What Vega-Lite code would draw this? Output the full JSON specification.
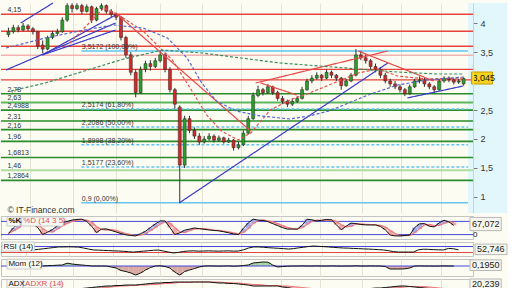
{
"$schema": "https://vega.github.io/schema/vega-lite/v6.json",
"padding": 0,
"background": "#fcfcf2",
"spacing": 3,
"bounds": "flush",
"config": {"view": {"stroke": null}, "font": "Liberation Sans", "text": {"font": "Liberation Sans"}},
"datasets": {
"bars": [
{"i":0,"o":3.80,"h":3.92,"l":3.76,"c":3.85,"k":25,"d":25,"r":null,"m":null,"a":null,"ar":null},
{"i":1,"o":3.85,"h":3.97,"l":3.82,"c":3.92,"k":50,"d":37,"r":null,"m":null,"a":null,"ar":null},
{"i":2,"o":3.92,"h":3.96,"l":3.84,"c":3.88,"k":71,"d":49,"r":null,"m":null,"a":null,"ar":null},
{"i":3,"o":3.88,"h":4.00,"l":3.86,"c":3.95,"k":79,"d":67,"r":null,"m":null,"a":null,"ar":null},
{"i":4,"o":3.95,"h":3.98,"l":3.86,"c":3.90,"k":85,"d":78,"r":null,"m":null,"a":null,"ar":null},
{"i":5,"o":3.90,"h":3.93,"l":3.80,"c":3.85,"k":70,"d":78,"r":null,"m":null,"a":null,"ar":null},
{"i":6,"o":3.85,"h":3.86,"l":3.55,"c":3.60,"k":52,"d":69,"r":47,"m":null,"a":null,"ar":null},
{"i":7,"o":3.62,"h":3.70,"l":3.48,"c":3.55,"k":20,"d":47,"r":51,"m":0,"a":null,"ar":null},
{"i":8,"o":3.55,"h":3.78,"l":3.53,"c":3.75,"k":31,"d":34,"r":55,"m":0.03,"a":null,"ar":null},
{"i":9,"o":3.75,"h":3.86,"l":3.72,"c":3.82,"k":43,"d":31,"r":59,"m":0.05,"a":null,"ar":null},
{"i":10,"o":3.82,"h":3.90,"l":3.78,"c":3.85,"k":60,"d":45,"r":63,"m":0.08,"a":null,"ar":null},
{"i":11,"o":3.85,"h":4.10,"l":3.83,"c":4.05,"k":74,"d":59,"r":67,"m":0.1,"a":null,"ar":null},
{"i":12,"o":4.05,"h":4.34,"l":4.02,"c":4.30,"k":80,"d":71,"r":67,"m":0.28,"a":18,"ar":17},
{"i":13,"o":4.30,"h":4.34,"l":4.18,"c":4.25,"k":86,"d":80,"r":68,"m":0.2,"a":19,"ar":17},
{"i":14,"o":4.25,"h":4.34,"l":4.22,"c":4.30,"k":89,"d":85,"r":67,"m":0.14,"a":20,"ar":18},
{"i":15,"o":4.30,"h":4.33,"l":4.15,"c":4.20,"k":90,"d":88,"r":66,"m":0.1,"a":21,"ar":18},
{"i":16,"o":4.20,"h":4.32,"l":4.18,"c":4.28,"k":80,"d":86,"r":60,"m":0.05,"a":22,"ar":19},
{"i":17,"o":4.28,"h":4.30,"l":4.00,"c":4.05,"k":58,"d":76,"r":53,"m":0,"a":23,"ar":20},
{"i":18,"o":4.05,"h":4.28,"l":4.03,"c":4.25,"k":29,"d":56,"r":47,"m":0,"a":24,"ar":21},
{"i":19,"o":4.25,"h":4.34,"l":4.22,"c":4.30,"k":45,"d":44,"r":46,"m":0,"a":25,"ar":22},
{"i":20,"o":4.30,"h":4.32,"l":4.16,"c":4.20,"k":46,"d":40,"r":44,"m":-0.01,"a":26,"ar":23},
{"i":21,"o":4.20,"h":4.24,"l":4.10,"c":4.15,"k":39,"d":43,"r":43,"m":-0.1,"a":26,"ar":24},
{"i":22,"o":4.15,"h":4.18,"l":4.05,"c":4.10,"k":32,"d":39,"r":41,"m":-0.2,"a":27,"ar":25},
{"i":23,"o":4.10,"h":4.12,"l":3.70,"c":3.75,"k":25,"d":32,"r":40,"m":-0.45,"a":27,"ar":26},
{"i":24,"o":3.75,"h":3.78,"l":3.40,"c":3.45,"k":19,"d":25,"r":38,"m":-0.55,"a":28,"ar":26},
{"i":25,"o":3.45,"h":3.50,"l":3.10,"c":3.15,"k":16,"d":20,"r":35,"m":-0.7,"a":28,"ar":27},
{"i":26,"o":3.15,"h":3.20,"l":2.72,"c":2.80,"k":14,"d":16,"r":33,"m":-0.9,"a":28,"ar":27},
{"i":27,"o":2.80,"h":3.25,"l":2.78,"c":3.20,"k":24,"d":18,"r":36,"m":-0.7,"a":29,"ar":28},
{"i":28,"o":3.20,"h":3.35,"l":3.15,"c":3.30,"k":35,"d":24,"r":39,"m":-0.4,"a":30,"ar":28},
{"i":29,"o":3.30,"h":3.36,"l":3.18,"c":3.25,"k":52,"d":37,"r":42,"m":-0.15,"a":31,"ar":29},
{"i":30,"o":3.25,"h":3.40,"l":3.22,"c":3.35,"k":68,"d":52,"r":45,"m":0,"a":32,"ar":29},
{"i":31,"o":3.35,"h":3.52,"l":3.32,"c":3.45,"k":82,"d":67,"r":46,"m":0.02,"a":32,"ar":30},
{"i":32,"o":3.45,"h":3.48,"l":3.15,"c":3.20,"k":82,"d":77,"r":40,"m":-0.05,"a":33,"ar":31},
{"i":33,"o":3.20,"h":3.24,"l":2.80,"c":2.85,"k":52,"d":72,"r":33,"m":-0.2,"a":33,"ar":31},
{"i":34,"o":2.85,"h":2.88,"l":2.52,"c":2.60,"k":20,"d":51,"r":27,"m":-0.6,"a":34,"ar":32},
{"i":35,"o":2.55,"h":2.58,"l":0.90,"c":1.55,"k":28,"d":33,"r":31,"m":-0.9,"a":34,"ar":33},
{"i":36,"o":1.55,"h":2.40,"l":1.50,"c":2.35,"k":40,"d":29,"r":37,"m":-0.55,"a":34,"ar":33},
{"i":37,"o":2.35,"h":2.40,"l":2.10,"c":2.15,"k":45,"d":38,"r":40,"m":-0.4,"a":34,"ar":33},
{"i":38,"o":2.15,"h":2.20,"l":2.00,"c":2.05,"k":50,"d":45,"r":41,"m":-0.25,"a":34,"ar":34},
{"i":39,"o":2.05,"h":2.10,"l":1.90,"c":1.95,"k":47,"d":47,"r":39,"m":-0.1,"a":34,"ar":34},
{"i":40,"o":1.95,"h":2.05,"l":1.92,"c":2.00,"k":44,"d":47,"r":40,"m":0,"a":34,"ar":34},
{"i":41,"o":2.00,"h":2.10,"l":1.97,"c":2.05,"k":41,"d":44,"r":41,"m":0.01,"a":34,"ar":34},
{"i":42,"o":2.05,"h":2.08,"l":1.94,"c":1.98,"k":39,"d":41,"r":40,"m":0,"a":33,"ar":34},
{"i":43,"o":1.98,"h":2.06,"l":1.95,"c":2.02,"k":37,"d":39,"r":39,"m":-0.01,"a":32,"ar":34},
{"i":44,"o":2.02,"h":2.04,"l":1.92,"c":1.95,"k":33,"d":36,"r":40,"m":0,"a":32,"ar":33},
{"i":45,"o":1.95,"h":2.02,"l":1.93,"c":1.98,"k":28,"d":33,"r":41,"m":0.01,"a":31,"ar":33},
{"i":46,"o":1.98,"h":2.00,"l":1.80,"c":1.85,"k":23,"d":28,"r":39,"m":-0.02,"a":31,"ar":32},
{"i":47,"o":1.85,"h":1.95,"l":1.82,"c":1.90,"k":20,"d":24,"r":40,"m":0,"a":30,"ar":32},
{"i":48,"o":1.90,"h":2.15,"l":1.88,"c":2.10,"k":48,"d":30,"r":48,"m":0.05,"a":29,"ar":31},
{"i":49,"o":2.10,"h":2.40,"l":2.08,"c":2.35,"k":73,"d":47,"r":60,"m":0.1,"a":28,"ar":30},
{"i":50,"o":2.35,"h":2.80,"l":2.33,"c":2.75,"k":90,"d":70,"r":67,"m":0.3,"a":26,"ar":29},
{"i":51,"o":2.75,"h":2.92,"l":2.72,"c":2.85,"k":86,"d":83,"r":67,"m":0.35,"a":26,"ar":29},
{"i":52,"o":2.85,"h":2.88,"l":2.75,"c":2.80,"k":84,"d":87,"r":65,"m":0.4,"a":26,"ar":28},
{"i":53,"o":2.80,"h":2.95,"l":2.78,"c":2.90,"k":79,"d":83,"r":62,"m":0.38,"a":26,"ar":27},
{"i":54,"o":2.90,"h":2.92,"l":2.76,"c":2.80,"k":70,"d":78,"r":60,"m":0.1,"a":26,"ar":27},
{"i":55,"o":2.80,"h":2.83,"l":2.66,"c":2.70,"k":61,"d":70,"r":58,"m":-0.1,"a":26,"ar":27},
{"i":56,"o":2.70,"h":2.74,"l":2.60,"c":2.65,"k":52,"d":61,"r":56,"m":-0.05,"a":24,"ar":26},
{"i":57,"o":2.65,"h":2.68,"l":2.55,"c":2.60,"k":45,"d":53,"r":53,"m":-0.02,"a":23,"ar":26},
{"i":58,"o":2.60,"h":2.70,"l":2.57,"c":2.65,"k":45,"d":47,"r":56,"m":0,"a":21,"ar":25},
{"i":59,"o":2.65,"h":2.74,"l":2.62,"c":2.70,"k":45,"d":45,"r":61,"m":0,"a":20,"ar":24},
{"i":60,"o":2.70,"h":2.90,"l":2.68,"c":2.85,"k":62,"d":51,"r":65,"m":0.01,"a":19,"ar":23},
{"i":61,"o":2.85,"h":3.04,"l":2.83,"c":3.00,"k":90,"d":66,"r":70,"m":0,"a":18,"ar":22},
{"i":62,"o":3.00,"h":3.10,"l":2.96,"c":3.05,"k":87,"d":80,"r":73,"m":0,"a":18,"ar":21},
{"i":63,"o":3.05,"h":3.15,"l":3.02,"c":3.10,"k":82,"d":86,"r":71,"m":0.01,"a":18,"ar":20},
{"i":64,"o":3.10,"h":3.12,"l":3.00,"c":3.05,"k":85,"d":85,"r":69,"m":0,"a":18,"ar":19},
{"i":65,"o":3.05,"h":3.20,"l":3.03,"c":3.15,"k":89,"d":85,"r":67,"m":0,"a":18,"ar":19},
{"i":66,"o":3.15,"h":3.18,"l":3.05,"c":3.10,"k":87,"d":87,"r":64,"m":0.01,"a":18,"ar":18},
{"i":67,"o":3.10,"h":3.12,"l":3.00,"c":3.05,"k":65,"d":80,"r":62,"m":0,"a":18,"ar":18},
{"i":68,"o":3.05,"h":3.07,"l":2.85,"c":2.92,"k":42,"d":65,"r":60,"m":-0.01,"a":18,"ar":18},
{"i":69,"o":2.92,"h":3.04,"l":2.90,"c":3.00,"k":58,"d":55,"r":59,"m":0,"a":18,"ar":18},
{"i":70,"o":3.00,"h":3.14,"l":2.98,"c":3.10,"k":72,"d":57,"r":57,"m":0,"a":19,"ar":18},
{"i":71,"o":3.10,"h":3.55,"l":3.08,"c":3.45,"k":70,"d":67,"r":56,"m":0.02,"a":20,"ar":18},
{"i":72,"o":3.45,"h":3.52,"l":3.36,"c":3.40,"k":66,"d":69,"r":54,"m":0,"a":20,"ar":19},
{"i":73,"o":3.40,"h":3.46,"l":3.30,"c":3.35,"k":64,"d":67,"r":53,"m":0,"a":21,"ar":19},
{"i":74,"o":3.35,"h":3.38,"l":3.20,"c":3.25,"k":64,"d":65,"r":51,"m":0.01,"a":21,"ar":20},
{"i":75,"o":3.25,"h":3.30,"l":3.15,"c":3.20,"k":64,"d":64,"r":49,"m":0,"a":22,"ar":20},
{"i":76,"o":3.20,"h":3.24,"l":3.05,"c":3.10,"k":57,"d":62,"r":47,"m":0,"a":22,"ar":21},
{"i":77,"o":3.10,"h":3.14,"l":2.96,"c":3.00,"k":42,"d":54,"r":42,"m":-0.05,"a":23,"ar":21},
{"i":78,"o":3.00,"h":3.04,"l":2.90,"c":2.95,"k":18,"d":39,"r":36,"m":-0.3,"a":24,"ar":22},
{"i":79,"o":2.95,"h":3.00,"l":2.86,"c":2.90,"k":14,"d":25,"r":33,"m":-0.3,"a":25,"ar":22},
{"i":80,"o":2.90,"h":2.94,"l":2.80,"c":2.85,"k":14,"d":15,"r":33,"m":-0.3,"a":26,"ar":23},
{"i":81,"o":2.85,"h":2.88,"l":2.74,"c":2.78,"k":16,"d":15,"r":33,"m":-0.28,"a":26,"ar":24},
{"i":82,"o":2.78,"h":2.94,"l":2.76,"c":2.90,"k":18,"d":16,"r":33,"m":-0.2,"a":25,"ar":25},
{"i":83,"o":2.90,"h":3.04,"l":2.88,"c":3.00,"k":52,"d":29,"r":48,"m":0,"a":24,"ar":25},
{"i":84,"o":3.00,"h":3.08,"l":2.96,"c":3.02,"k":69,"d":46,"r":52,"m":0.01,"a":23,"ar":25},
{"i":85,"o":3.02,"h":3.05,"l":2.90,"c":2.95,"k":70,"d":64,"r":51,"m":0,"a":22,"ar":25},
{"i":86,"o":2.95,"h":2.98,"l":2.86,"c":2.90,"k":58,"d":66,"r":49,"m":0,"a":21,"ar":24},
{"i":87,"o":2.90,"h":2.93,"l":2.80,"c":2.85,"k":55,"d":61,"r":48,"m":-0.01,"a":20,"ar":23},
{"i":88,"o":2.85,"h":3.04,"l":2.83,"c":3.00,"k":73,"d":62,"r":47,"m":0,"a":19,"ar":22},
{"i":89,"o":3.00,"h":3.08,"l":2.97,"c":3.05,"k":85,"d":71,"r":57,"m":0.01,"a":18,"ar":21},
{"i":90,"o":3.05,"h":3.08,"l":2.98,"c":3.02,"k":78,"d":79,"r":55,"m":0,"a":18,"ar":20},
{"i":91,"o":3.02,"h":3.05,"l":2.94,"c":2.98,"k":62,"d":75,"r":48,"m":0,"a":18,"ar":19},
{"i":92,"o":2.98,"h":3.04,"l":2.95,"c":3.00,"k":null,"d":null,"r":null,"m":null,"a":null,"ar":null},
{"i":93,"o":2.95,"h":3.06,"l":2.92,"c":3.045,"k":null,"d":null,"r":null,"m":null,"a":null,"ar":null}
],
"levels": [
{"v":4.15,"kind":"res","label":"4,15"},
{"v":3.857,"kind":"res","label":""},
{"v":3.598,"kind":"res","label":""},
{"v":3.443,"kind":"respale","label":""},
{"v":3.2,"kind":"res","label":""},
{"v":3.02,"kind":"res","label":""},
{"v":2.78,"kind":"sup","label":"2,78"},
{"v":2.63,"kind":"suplight","label":"2,63"},
{"v":2.4988,"kind":"sup","label":"2,4988"},
{"v":2.31,"kind":"sup","label":"2,31"},
{"v":2.16,"kind":"sup","label":"2,16"},
{"v":1.96,"kind":"sup","label":"1,96"},
{"v":1.6813,"kind":"sup","label":"1,6813"},
{"v":1.46,"kind":"suppale","label":"1,46"},
{"v":1.2864,"kind":"sup","label":"1,2864"}
],
"fibs": [
{"v":3.5172,"kind":"solid","label":"3,5172 (100,00%)"},
{"v":2.5174,"kind":"dash","label":"2,5174 (61,80%)"},
{"v":2.2086,"kind":"dash","label":"2,2086 (50,00%)"},
{"v":1.8998,"kind":"dash","label":"1,8998 (38,20%)"},
{"v":1.5177,"kind":"dash","label":"1,5177 (23,60%)"},
{"v":0.9,"kind":"solid","label":"0,9 (0,00%)"}
],
"lines": [
{"id":"B1","kind":"tb","i":-0.5,"v":3.19},{"id":"B1","kind":"tb","i":21.9,"v":4.0},
{"id":"B2","kind":"tb","i":6.9,"v":3.448},{"id":"B2","kind":"tb","i":21.9,"v":4.138},
{"id":"B3","kind":"tb","i":6.9,"v":3.448},{"id":"B3","kind":"tb","i":21.9,"v":3.879},
{"id":"B4","kind":"tb","i":2.5,"v":4.0},{"id":"B4","kind":"tb","i":9.1,"v":4.345},
{"id":"B5","kind":"tb","i":34.9,"v":0.897},{"id":"B5","kind":"tb","i":77.5,"v":3.31},
{"id":"B6","kind":"tb","i":81.5,"v":2.707},{"id":"B6","kind":"tb","i":92.9,"v":2.914},
{"id":"R1","kind":"tr","i":21.9,"v":4.172},{"id":"R1","kind":"tr","i":49.5,"v":2.138},
{"id":"R2","kind":"tr","i":50.5,"v":2.966},{"id":"R2","kind":"tr","i":77.5,"v":3.517},
{"id":"R3","kind":"tr","i":51.5,"v":2.966},{"id":"R3","kind":"tr","i":58.9,"v":2.759},
{"id":"R4","kind":"tr","i":71.5,"v":3.517},{"id":"R4","kind":"tr","i":86.9,"v":3.0},
{"id":"MR","kind":"mr","i":12.5,"v":3.655},{"id":"MR","kind":"mr","i":15.5,"v":3.914},{"id":"MR","kind":"mr","i":19.5,"v":4.259},{"id":"MR","kind":"mr","i":22.5,"v":4.138},{"id":"MR","kind":"mr","i":27.5,"v":3.862},{"id":"MR","kind":"mr","i":33.5,"v":3.362},{"id":"MR","kind":"mr","i":37.5,"v":2.828},{"id":"MR","kind":"mr","i":40.5,"v":2.414},{"id":"MR","kind":"mr","i":43.5,"v":2.138},{"id":"MR","kind":"mr","i":46.9,"v":1.983},{"id":"MR","kind":"mr","i":49.5,"v":2.103},{"id":"MR","kind":"mr","i":53.5,"v":2.5},{"id":"MR","kind":"mr","i":57.5,"v":2.672},{"id":"MR","kind":"mr","i":61.5,"v":2.793},{"id":"MR","kind":"mr","i":65.5,"v":2.931},{"id":"MR","kind":"mr","i":68.5,"v":3.034},{"id":"MR","kind":"mr","i":71.5,"v":3.138},{"id":"MR","kind":"mr","i":75.5,"v":3.207},{"id":"MR","kind":"mr","i":79.5,"v":3.086},{"id":"MR","kind":"mr","i":85.5,"v":3.034},{"id":"MR","kind":"mr","i":93.1,"v":3.052},
{"id":"MB","kind":"mb","i":-0.5,"v":3.569},{"id":"MB","kind":"mb","i":7.5,"v":3.741},{"id":"MB","kind":"mb","i":15.5,"v":3.879},{"id":"MB","kind":"mb","i":21.5,"v":3.966},{"id":"MB","kind":"mb","i":27.5,"v":3.914},{"id":"MB","kind":"mb","i":32.5,"v":3.741},{"id":"MB","kind":"mb","i":36.5,"v":3.397},{"id":"MB","kind":"mb","i":39.5,"v":2.966},{"id":"MB","kind":"mb","i":42.5,"v":2.655},{"id":"MB","kind":"mb","i":46.5,"v":2.483},{"id":"MB","kind":"mb","i":51.5,"v":2.397},{"id":"MB","kind":"mb","i":57.5,"v":2.345},{"id":"MB","kind":"mb","i":61.5,"v":2.397},{"id":"MB","kind":"mb","i":65.5,"v":2.483},{"id":"MB","kind":"mb","i":69.5,"v":2.621},{"id":"MB","kind":"mb","i":73.5,"v":2.759},{"id":"MB","kind":"mb","i":79.5,"v":2.931},{"id":"MB","kind":"mb","i":85.5,"v":3.017},{"id":"MB","kind":"mb","i":93.1,"v":3.069},
{"id":"MG","kind":"mg","i":0.5,"v":2.828},{"id":"MG","kind":"mg","i":7.5,"v":2.966},{"id":"MG","kind":"mg","i":15.5,"v":3.172},{"id":"MG","kind":"mg","i":23.5,"v":3.379},{"id":"MG","kind":"mg","i":31.5,"v":3.534},{"id":"MG","kind":"mg","i":39.5,"v":3.483},{"id":"MG","kind":"mg","i":47.5,"v":3.397},{"id":"MG","kind":"mg","i":55.5,"v":3.31},{"id":"MG","kind":"mg","i":63.5,"v":3.259},{"id":"MG","kind":"mg","i":71.5,"v":3.207},{"id":"MG","kind":"mg","i":79.5,"v":3.155},{"id":"MG","kind":"mg","i":87.5,"v":3.121},{"id":"MG","kind":"mg","i":93.1,"v":3.121}
]
},
"vconcat": [
{
"width": 472, "height": 210,
"resolve": {"scale": {"color": "independent", "strokeDash": "independent", "strokeWidth": "independent"}},
"layer": [
{"data": {"values": [{}]}, "mark": {"type": "rect", "fill": "#e2f7fb"},
 "encoding": {
  "x": {"datum": 93.9, "type": "quantitative", "scale": {"domain": [-0.5, 93.9], "nice": false, "zero": false}},
  "x2": {"datum": 101.9},
  "y": {"datum": 4.345, "type": "quantitative", "scale": {"domain": [0.724, 4.345], "nice": false, "zero": false}},
  "y2": {"datum": 0.724}}},
{"data": {"name": "levels"}, "mark": {"type": "rule"},
 "encoding": {
  "y": {"field": "v", "type": "quantitative"},
  "color": {"field": "kind", "type": "nominal", "scale": {"domain": ["res", "respale", "sup", "suplight", "suppale"], "range": ["#e8423a", "#f2b2b2", "#2a8c2a", "#5db85d", "#b2dba2"]}, "legend": null},
  "strokeWidth": {"field": "kind", "type": "ordinal", "scale": {"domain": ["res", "respale", "sup", "suplight", "suppale"], "range": [1.4, 2, 2, 1.4, 3]}, "legend": null}}},
{"data": {"name": "fibs"}, "mark": {"type": "rule", "color": "#62c6f0", "strokeWidth": 1.5},
 "encoding": {
  "x": {"datum": 14.9}, "x2": {"datum": 93.9},
  "y": {"field": "v", "type": "quantitative"},
  "strokeDash": {"field": "kind", "type": "nominal", "scale": {"domain": ["solid", "dash"], "range": [[1, 0], [3, 2]]}, "legend": null}}},
{"data": {"name": "bars"}, "mark": {"type": "rule", "color": "#333", "strokeWidth": 1},
 "encoding": {
  "x": {"field": "i", "type": "quantitative", "scale": {"domain": [-0.5, 93.9], "nice": false, "zero": false}, "axis": {"values": [4.5, 13.1, 21.9, 30.9, 39.5, 47.5, 55.7, 63.7, 72.3, 80.3, 88.3], "grid": true, "gridColor": "#e4e4d4", "labels": false, "ticks": false, "domain": false, "title": null}},
  "y": {"field": "l", "type": "quantitative", "scale": {"domain": [0.724, 4.345], "nice": false, "zero": false}, "axis": {"orient": "right", "values": [1, 1.5, 2, 2.5, 3.5, 4], "labelExpr": "replace(format(datum.value, '.1~f'), '.', ',')", "title": null, "grid": false, "tickSize": 4, "tickColor": "#777", "domainColor": "#b5dbe4", "labelFontSize": 9, "labelColor": "#333", "labelPadding": 3, "zindex": 1}},
  "y2": {"field": "h"}}},
{"data": {"name": "bars"}, "mark": {"type": "bar", "width": 3, "stroke": "#222", "strokeWidth": 0.5},
 "encoding": {
  "x": {"field": "i", "type": "quantitative"},
  "y": {"field": "o", "type": "quantitative"}, "y2": {"field": "c"},
  "color": {"condition": {"test": "datum.c >= datum.o", "value": "#2aa02a"}, "value": "#d02a2a"}}},
{"data": {"name": "lines"}, "mark": {"type": "line", "strokeWidth": 1.2},
 "encoding": {
  "x": {"field": "i", "type": "quantitative"},
  "y": {"field": "v", "type": "quantitative"},
  "detail": {"field": "id"},
  "color": {"field": "kind", "type": "nominal", "scale": {"domain": ["tb", "tr", "mb", "mr", "mg"], "range": ["#3a3ac8", "#e84848", "#5a66cc", "#e45050", "#3a8a5a"]}, "legend": null},
  "strokeDash": {"field": "kind", "type": "nominal", "scale": {"domain": ["tb", "tr", "mb", "mr", "mg"], "range": [[1, 0], [1, 0], [3, 2], [3, 2], [3, 2]]}, "legend": null}}},
{"data": {"name": "levels"}, "mark": {"type": "text", "align": "left", "baseline": "bottom", "dy": -1, "fontSize": 7, "color": "#333"},
 "encoding": {
  "x": {"datum": -0.2},
  "y": {"field": "v", "type": "quantitative"},
  "text": {"field": "label"}}},
{"data": {"name": "fibs"}, "mark": {"type": "text", "align": "left", "baseline": "bottom", "dy": -1, "fontSize": 7, "color": "#333"},
 "encoding": {
  "x": {"datum": 15.0},
  "y": {"field": "v", "type": "quantitative"},
  "text": {"field": "label"}}},
{"data": {"values": [{"t": "3,045"}]}, "mark": {"type": "rect", "fill": "#f5d31c", "stroke": "#c49c00", "strokeWidth": 1},
 "encoding": {"x": {"datum": 94.6}, "x2": {"datum": 98.9}, "y": {"datum": 3.155}, "y2": {"datum": 2.948}}},
{"data": {"values": [{"t": "3,045"}]}, "mark": {"type": "text", "align": "left", "baseline": "middle", "fontSize": 9, "color": "#111"},
 "encoding": {"x": {"datum": 94.8}, "y": {"datum": 3.05}, "text": {"field": "t"}}},
{"data": {"values": [{"t": "© IT-Finance.com"}]}, "mark": {"type": "text", "align": "left", "baseline": "middle", "fontSize": 8.5, "color": "#333"},
 "encoding": {"x": {"datum": -0.2}, "y": {"datum": 0.776}, "text": {"field": "t"}}}
]
},
{
"width": 472, "height": 23,
"view": {"stroke": "#c4c4c4"},
"layer": [
{"data": {"values": [{"lv": 80}, {"lv": 20}]}, "mark": {"type": "rule", "color": "#4646dc", "strokeWidth": 1},
 "encoding": {"y": {"field": "lv", "type": "quantitative", "scale": {"domain": [0, 104.5], "nice": false, "zero": false}, "axis": {"labels": false, "ticks": false, "domain": false, "grid": false, "title": null}}}},
{"data": {"name": "bars"}, "transform": [{"filter": "isValid(datum.k)"}], "mark": {"type": "bar", "width": 5},
 "encoding": {
  "x": {"field": "i", "type": "quantitative", "scale": {"domain": [-0.5, 93.9], "nice": false, "zero": false}, "axis": {"values": [4.5, 13.1, 21.9, 30.9, 39.5, 47.5, 55.7, 63.7, 72.3, 80.3, 88.3], "grid": true, "gridColor": "#e4e4d4", "labels": false, "ticks": false, "domain": false, "title": null}},
  "y": {"field": "k", "type": "quantitative"}, "y2": {"field": "d"},
  "color": {"condition": {"test": "datum.k >= datum.d", "value": "#a6aaf0"}, "value": "#f2aaaa"}}},
{"data": {"name": "bars"}, "transform": [{"filter": "isValid(datum.d)"}], "mark": {"type": "line", "color": "#f07878", "strokeWidth": 1.2},
 "encoding": {"x": {"field": "i", "type": "quantitative"}, "y": {"field": "d", "type": "quantitative"}}},
{"data": {"name": "bars"}, "transform": [{"filter": "isValid(datum.k)"}], "mark": {"type": "line", "color": "#111", "strokeWidth": 1},
 "encoding": {"x": {"field": "i", "type": "quantitative"}, "y": {"field": "k", "type": "quantitative"}}},
{"data": {"values": [{"a": -0.3, "b": 2.4}, {"a": 2.7, "b": 11.2}]}, "mark": {"type": "rect", "fill": "#f8f8f2", "stroke": "#c0c0c0", "strokeWidth": 0.8},
 "encoding": {"x": {"field": "a", "type": "quantitative"}, "x2": {"field": "b"}, "y": {"datum": 100.5}, "y2": {"datum": 59}}},
{"data": {"values": [{"t": "%K"}]}, "mark": {"type": "text", "align": "left", "baseline": "middle", "fontSize": 8, "color": "#111", "fontWeight": "bold"},
 "encoding": {"x": {"datum": 0.0}, "y": {"datum": 80}, "text": {"field": "t"}}},
{"data": {"values": [{"t": "%D (14 3 5)"}]}, "mark": {"type": "text", "align": "left", "baseline": "middle", "fontSize": 8, "color": "#e05050"},
 "encoding": {"x": {"datum": 3.0}, "y": {"datum": 80}, "text": {"field": "t"}}},
{"data": {"values": [{}]}, "mark": {"type": "rect", "fill": "#f6f6ee", "stroke": "#b8b8b8", "strokeWidth": 1},
 "encoding": {"x": {"datum": 94.3}, "x2": {"datum": 100.7}, "y": {"datum": 98}, "y2": {"datum": 38}}},
{"data": {"values": [{"t": "67,072"}]}, "mark": {"type": "text", "align": "left", "baseline": "middle", "fontSize": 9, "color": "#222"},
 "encoding": {"x": {"datum": 94.7}, "y": {"datum": 67}, "text": {"field": "t"}}},
{"data": {"values": [{"t": "0"}]}, "mark": {"type": "text", "align": "left", "baseline": "middle", "fontSize": 8, "color": "#222"},
 "encoding": {"x": {"datum": 94.9}, "y": {"datum": 17}, "text": {"field": "t"}}}
]
},
{
"width": 472, "height": 14,
"view": {"stroke": "#c4c4c4"},
"layer": [
{"data": {"values": [{"lv": 70}, {"lv": 30}]}, "mark": {"type": "rule", "strokeWidth": 1},
 "encoding": {"y": {"field": "lv", "type": "quantitative", "scale": {"domain": [6.7, 100], "nice": false, "zero": false}, "axis": {"labels": false, "ticks": false, "domain": false, "grid": false, "title": null}},
  "color": {"condition": {"test": "datum.lv > 50", "value": "#4646dc"}, "value": "#e04848"}}},
{"data": {"name": "bars"}, "transform": [{"filter": "isValid(datum.r)"}], "mark": {"type": "line", "color": "#111", "strokeWidth": 1},
 "encoding": {
  "x": {"field": "i", "type": "quantitative", "scale": {"domain": [-0.5, 93.9], "nice": false, "zero": false}, "axis": {"values": [4.5, 13.1, 21.9, 30.9, 39.5, 47.5, 55.7, 63.7, 72.3, 80.3, 88.3], "grid": true, "gridColor": "#e4e4d4", "labels": false, "ticks": false, "domain": false, "title": null}},
  "y": {"field": "r", "type": "quantitative"}}},
{"data": {"values": [{}]}, "mark": {"type": "rect", "fill": "#f8f8f2", "stroke": "#c0c0c0", "strokeWidth": 0.8},
 "encoding": {"x": {"datum": -0.3}, "x2": {"datum": 6.2}, "y": {"datum": 100}, "y2": {"datum": 40}}},
{"data": {"values": [{"t": "RSI (14)"}]}, "mark": {"type": "text", "align": "left", "baseline": "middle", "fontSize": 8, "color": "#111"},
 "encoding": {"x": {"datum": 0.0}, "y": {"datum": 70}, "text": {"field": "t"}}},
{"data": {"values": [{}]}, "mark": {"type": "rect", "fill": "#f6f6ee", "stroke": "#b8b8b8", "strokeWidth": 1},
 "encoding": {"x": {"datum": 94.3}, "x2": {"datum": 100.7}, "y": {"datum": 86}, "y2": {"datum": 16}}},
{"data": {"values": [{"t": "52,746"}]}, "mark": {"type": "text", "align": "left", "baseline": "middle", "fontSize": 9, "color": "#222"},
 "encoding": {"x": {"datum": 94.7}, "y": {"datum": 51}, "text": {"field": "t"}}}
]
},
{
"width": 472, "height": 17,
"view": {"stroke": "#c4c4c4"},
"layer": [
{"data": {"name": "bars"}, "transform": [{"filter": "isValid(datum.m)"}], "mark": {"type": "bar", "width": 5},
 "encoding": {
  "x": {"field": "i", "type": "quantitative", "scale": {"domain": [-0.5, 93.9], "nice": false, "zero": false}, "axis": {"values": [4.5, 13.1, 21.9, 30.9, 39.5, 47.5, 55.7, 63.7, 72.3, 80.3, 88.3], "grid": true, "gridColor": "#e4e4d4", "labels": false, "ticks": false, "domain": false, "title": null}},
  "y": {"field": "m", "type": "quantitative", "scale": {"domain": [-1.0, 0.7], "nice": false, "zero": false}, "axis": {"labels": false, "ticks": false, "domain": false, "grid": false, "title": null}}, "y2": {"datum": 0},
  "color": {"condition": {"test": "datum.m >= 0", "value": "#a6d6a0"}, "value": "#d8aaa2"}}},
{"data": {"values": [{"lv": 0}]}, "mark": {"type": "rule", "color": "#4646dc", "strokeWidth": 1},
 "encoding": {"y": {"field": "lv", "type": "quantitative"}}},
{"data": {"name": "bars"}, "transform": [{"filter": "isValid(datum.m)"}], "mark": {"type": "line", "color": "#111", "strokeWidth": 1},
 "encoding": {"x": {"field": "i", "type": "quantitative"}, "y": {"field": "m", "type": "quantitative"}}},
{"data": {"values": [{}]}, "mark": {"type": "rect", "fill": "#f8f8f2", "stroke": "#c0c0c0", "strokeWidth": 0.8},
 "encoding": {"x": {"datum": -0.3}, "x2": {"datum": 6.8}, "y": {"datum": 0.68}, "y2": {"datum": -0.3}}},
{"data": {"values": [{"t": "Mom (12)"}]}, "mark": {"type": "text", "align": "left", "baseline": "middle", "fontSize": 8, "color": "#111"},
 "encoding": {"x": {"datum": 0.0}, "y": {"datum": 0.2}, "text": {"field": "t"}}},
{"data": {"values": [{}]}, "mark": {"type": "rect", "fill": "#f6f6ee", "stroke": "#b8b8b8", "strokeWidth": 1},
 "encoding": {"x": {"datum": 94.3}, "x2": {"datum": 100.7}, "y": {"datum": 0.62}, "y2": {"datum": -0.45}}},
{"data": {"values": [{"t": "0,1950"}]}, "mark": {"type": "text", "align": "left", "baseline": "middle", "fontSize": 9, "color": "#222"},
 "encoding": {"x": {"datum": 94.7}, "y": {"datum": 0.09}, "text": {"field": "t"}}}
]
},
{
"width": 472, "height": 12,
"view": {"stroke": "#c4c4c4"},
"layer": [
{"data": {"name": "bars"}, "transform": [{"filter": "isValid(datum.a)"}], "mark": {"type": "bar", "width": 5, "clip": true},
 "encoding": {
  "x": {"field": "i", "type": "quantitative", "scale": {"domain": [-0.5, 93.9], "nice": false, "zero": false}, "axis": {"values": [4.5, 13.1, 21.9, 30.9, 39.5, 47.5, 55.7, 63.7, 72.3, 80.3, 88.3], "grid": true, "gridColor": "#e4e4d4", "labels": false, "ticks": false, "domain": false, "title": null}},
  "y": {"field": "a", "type": "quantitative", "scale": {"domain": [16, 40], "nice": false, "zero": false}, "axis": {"labels": false, "ticks": false, "domain": false, "grid": false, "title": null}}, "y2": {"field": "ar"},
  "color": {"condition": {"test": "datum.a >= datum.ar", "value": "#b4b4b4"}, "value": "#f2b0b0"}}},
{"data": {"name": "bars"}, "transform": [{"filter": "isValid(datum.ar)"}], "mark": {"type": "line", "color": "#f07878", "strokeWidth": 1.2, "clip": true},
 "encoding": {"x": {"field": "i", "type": "quantitative"}, "y": {"field": "ar", "type": "quantitative"}}},
{"data": {"name": "bars"}, "transform": [{"filter": "isValid(datum.a)"}], "mark": {"type": "line", "color": "#111", "strokeWidth": 1, "clip": true},
 "encoding": {"x": {"field": "i", "type": "quantitative"}, "y": {"field": "a", "type": "quantitative"}}},
{"data": {"values": [{"a": -0.3, "b": 2.9}, {"a": 3.1, "b": 10.8}]}, "mark": {"type": "rect", "fill": "#f8f8f2", "stroke": "#c0c0c0", "strokeWidth": 0.8},
 "encoding": {"x": {"field": "a", "type": "quantitative"}, "x2": {"field": "b"}, "y": {"datum": 39}, "y2": {"datum": 22}}},
{"data": {"values": [{"t": "ADX"}]}, "mark": {"type": "text", "align": "left", "baseline": "middle", "fontSize": 8, "color": "#111"},
 "encoding": {"x": {"datum": 0.0}, "y": {"datum": 31}, "text": {"field": "t"}}},
{"data": {"values": [{"t": "ADXR (14)"}]}, "mark": {"type": "text", "align": "left", "baseline": "middle", "fontSize": 8, "color": "#e05050"},
 "encoding": {"x": {"datum": 3.4}, "y": {"datum": 31}, "text": {"field": "t"}}},
{"data": {"values": [{}]}, "mark": {"type": "rect", "fill": "#f6f6ee", "stroke": "#b8b8b8", "strokeWidth": 1},
 "encoding": {"x": {"datum": 94.3}, "x2": {"datum": 100.7}, "y": {"datum": 40}, "y2": {"datum": 17}}},
{"data": {"values": [{"t": "20,239"}]}, "mark": {"type": "text", "align": "left", "baseline": "middle", "fontSize": 9, "color": "#222"},
 "encoding": {"x": {"datum": 94.7}, "y": {"datum": 30}, "text": {"field": "t"}}}
]
}
]
}
